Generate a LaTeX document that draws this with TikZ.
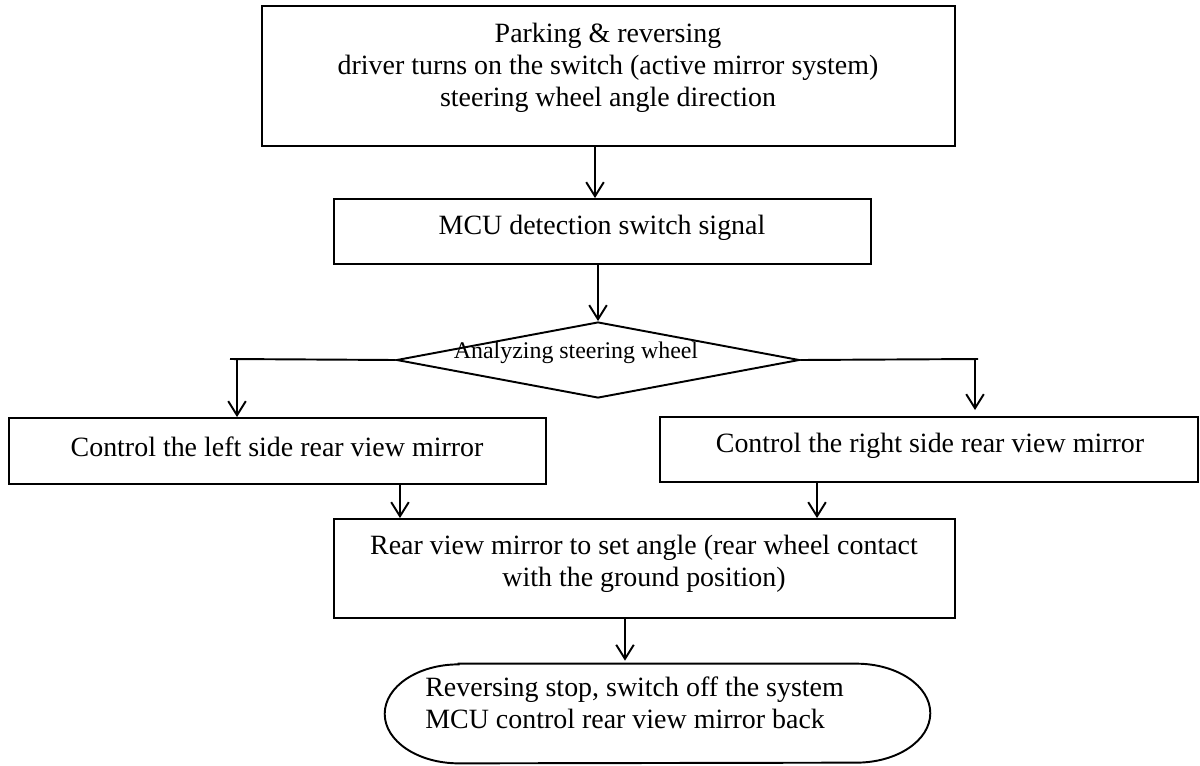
\documentclass[tikz,border=0pt]{standalone}
\usepackage{fontspec}
\setmainfont{Liberation Serif}
\usetikzlibrary{arrows.meta,shapes.geometric}
\begin{document}
\begin{tikzpicture}[x=0.02cm,y=-0.02cm,
  line/.style={line width=1.1pt},
  box/.style={line, draw, rectangle, inner sep=0pt},
  txt/.style={inner sep=0pt, font=\fontsize{15.9pt}{18.2pt}\selectfont, align=center},
  small/.style={inner sep=0pt, font=\fontsize{13.6pt}{16pt}\selectfont},
  arr/.style={line, -{Straight Barb[length=8pt,width=10pt,line width=1.1pt]}}]
\useasboundingbox (0,0) rectangle (1200,765);

% boxes
\node[box, minimum width=13.86cm, minimum height=2.8cm] (top) at (608.5,76) {};
\node[txt] (toptxt) at (608,68) {Parking \& reversing\\driver turns on the switch (active mirror system)\\steering wheel angle direction};

\node[box, minimum width=10.74cm, minimum height=1.3cm] (mcu) at (602.5,231.5) {};
\node[txt] (mcutxt) at (602,228) {MCU detection switch signal};

\node[line, draw, diamond, inner sep=0pt, minimum width=8.06cm, minimum height=1.52cm] (dia) at (598,360) {};
\node[small] (diatxt) at (576,353) {Analyzing steering wheel};

\node[box, minimum width=10.74cm, minimum height=1.32cm] (left) at (277.5,451) {};
\node[txt] (lefttxt) at (277,447) {Control the left side rear view mirror};

\node[box, minimum width=10.76cm, minimum height=1.3cm] (right) at (929,449.5) {};
\node[txt] (righttxt) at (930,446) {Control the right side rear view mirror};

\node[box, minimum width=12.42cm, minimum height=1.98cm] (mid) at (644.5,568.5) {};
\node[txt] (midtxt) at (644,564) {Rear view mirror to set angle (rear wheel contact\\with the ground position)};

% terminal with elliptic ends
\node[inner sep=0pt, minimum width=10.9cm, minimum height=1.98cm] (stop) at (657.5,713.5) {};
\draw[line] ([xshift=1.48cm]stop.north west) -- ([xshift=-1.48cm]stop.north east)
  arc[start angle=90, end angle=-90, x radius=1.48cm, y radius=0.99cm]
  -- ([xshift=1.48cm]stop.south west)
  arc[start angle=270, end angle=90, x radius=1.48cm, y radius=0.99cm] -- cycle;
\node[txt, align=left, anchor=west] (stoptxt) at (425,702.5) {Reversing stop, switch off the system\\MCU control rear view mirror back};

% connectors
\coordinate (a1) at ([xshift=-0.27cm]top.south);
\draw[arr] (a1) -- (a1 |- mcu.north);
\draw[arr] (dia.north |- mcu.south) -- (dia.north);

\coordinate (lend) at (230,359);
\coordinate (lturn) at (237,359);
\draw[line] (dia.west) -- (lend);
\draw[arr] (lturn) -- (lturn |- left.north);

\coordinate (rend) at (978,359);
\coordinate (rturn) at (975,359);
\draw[line] (dia.east) -- (rend);
\draw[arr, shorten >=0.12cm] (rturn) -- (rturn |- right.north);

\coordinate (b1) at ([xshift=2.45cm]left.south);
\draw[arr] (b1) -- (b1 |- mid.north);
\coordinate (b2) at ([xshift=-2.24cm]right.south);
\draw[arr] (b2) -- (b2 |- mid.north);

\coordinate (c1) at ([xshift=-0.39cm]mid.south);
\draw[arr, shorten >=0.06cm] (c1) -- (c1 |- stop.north);
\end{tikzpicture}
\end{document}
